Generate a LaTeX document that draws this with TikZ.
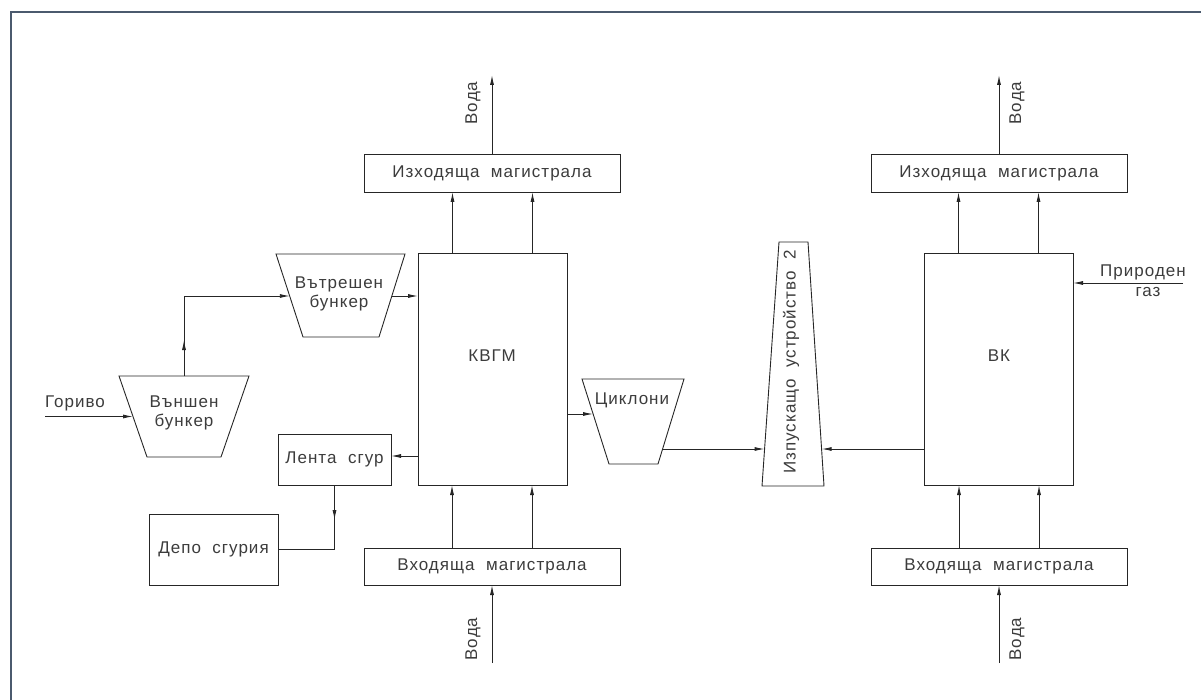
\documentclass[tikz,border=0pt]{standalone}
\usepackage{fontspec}
\setmainfont{Liberation Sans}
\newfontfamily\fs{Liberation Sans}[LetterSpace=6]
\usetikzlibrary{arrows.meta,calc}
\definecolor{framec}{HTML}{4B5A6E}
\definecolor{txt}{HTML}{3C3C3C}
\begin{document}
\begin{tikzpicture}[x=1pt,y=-1pt,
  ln/.style={line width=0.9pt, draw=black!85},
  arr/.style={ln, -{Latex[length=10pt,width=4pt]}},
  box/.style={ln, rectangle, inner sep=0pt, outer sep=0pt, font=\fs\fontsize{17}{19}\selectfont, text=txt},
  trap/.style={ln, line join=miter},
  lbl/.style={font=\fs\fontsize{17}{19}\selectfont, text=txt, inner sep=0pt, align=center}
]
\useasboundingbox (0,0) rectangle (1201,700);
\draw[framec, line width=2.5pt] (11,702) -- (11,12) -- (1203,12);

% rectangles
\node[box, minimum width=256pt, minimum height=38pt] (vyxL) at (492,173) {Изходяща~~магистрала};
\node[box, minimum width=256pt, minimum height=38pt] (vyxR) at (999,173) {Изходяща~~магистрала};
\node[box, minimum width=256pt, minimum height=37pt] (vxL) at (492,566.5) {Входяща~~магистрала};
\node[box, minimum width=256pt, minimum height=37pt] (vxR) at (999,566.5) {Входяща~~магистрала};
\node[box, minimum width=149pt, minimum height=232pt] (kvgm) at (492.5,369) {};
\node[box, minimum width=149pt, minimum height=232pt] (bk) at (998.5,369) {};
\node[box, minimum width=113pt, minimum height=51pt] (lenta) at (334.5,459.5) {Лента~~сгур};
\node[box, minimum width=129pt, minimum height=71pt] (depo) at (213.5,549.5) {Депо~~сгурия};
\node[lbl] (kvgmT) at (492,356) {КВГМ};
\node[lbl] (bkT) at (999,356) {ВК};

% trapezia (outer bunker, inner bunker, cyclones, chimney)
\draw[trap] (119,376) -- (249,376) -- (221,457) -- (147,457) -- cycle;
\draw[trap] (276,254) -- (405,254) -- (379,337) -- (303,337) -- cycle;
\draw[trap] (582,379) -- (684,379) -- (658,464) -- (609,464) -- cycle;
\draw[trap] (779,242) -- (808,242) -- (824,486) -- (762,486) -- cycle;
\coordinate (obL) at (133,416.5);
\coordinate (obT) at (184,376);
\coordinate (ibL) at (289.8,296);
\coordinate (ibR) at (392,296);
\coordinate (cyL) at (593.1,414);
\coordinate (cyR) at (662.2,449);
\coordinate (chL) at (764.6,449);
\coordinate (chR) at (821.6,449);
\node[lbl] (obT1) at (184,412.5) {Външен\\бункер};
\node[lbl] (ibT1) at (339,294) {Вътрешен\\бункер};
\node[lbl] (cyT) at (632,400) {Циклони};
\node[lbl, rotate=90] (chT) at (791,362) {Изпускащо~~устройство~~2};

% free ends
\coordinate (gor) at (45,0);
\coordinate (wTL) at (492,75);
\coordinate (wTR) at (999,75);
\coordinate (wBL) at (492,663);
\coordinate (wBR) at (999,663);
\coordinate (gas) at (1183,283);

% labels
\node[lbl] (gorT) at (75,403) {Гориво};
\node[lbl, rotate=90] (w1) at (473,103) {Вода};
\node[lbl, rotate=90] (w2) at (1017,103) {Вода};
\node[lbl, rotate=90] (w3) at (473,639) {Вода};
\node[lbl, rotate=90] (w4) at (1017,639) {Вода};
\node[lbl] (gasT1) at (1143,272) {Природен};
\node[lbl] (gasT2) at (1148,292) {газ};

% connectors
\draw[arr] (gor |- obL) -- (obL);
\draw[arr] (obT) |- (ibL);
\draw[arr] (obT) -- ++(0,-36);
\draw[arr] (ibR) -- (kvgm.west |- ibR);
\draw[arr] ([yshift=-87pt]kvgm.west) -- ([yshift=-87pt]kvgm.west -| lenta.east);
\draw[ln] (lenta.south) |- (depo.east);
\draw[arr] (lenta.south) -- ++(0,35);
\draw[arr] (kvgm.east |- cyL) -- (cyL);
\draw[arr] (cyR) -- (chL);
\draw[arr] (bk.west |- chR) -- (chR);
\draw[arr] (gas) -- (gas -| bk.east);
\draw[arr] (vyxL.north) -- (wTL);
\draw[arr] (vyxR.north) -- (wTR);
\draw[arr] (wBL) -- (vxL.south);
\draw[arr] (wBR) -- (vxR.south);
\foreach \s in {-40,40} {
  \draw[arr] ([xshift=\s pt]kvgm.north) -- ([xshift=\s pt]kvgm.north |- vyxL.south);
  \draw[arr] ([xshift=\s pt]bk.north) -- ([xshift=\s pt]bk.north |- vyxR.south);
  \draw[arr] ([xshift=\s pt]vxL.north) -- ([xshift=\s pt]vxL.north |- kvgm.south);
  \draw[arr] ([xshift=\s pt]vxR.north) -- ([xshift=\s pt]vxR.north |- bk.south);
}
\end{tikzpicture}
\end{document}
